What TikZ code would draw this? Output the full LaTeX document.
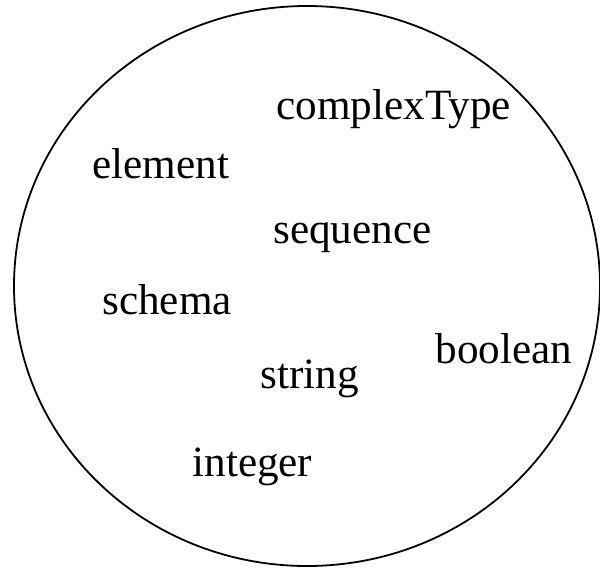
\documentclass[tikz,border=0pt]{standalone}
\usepackage{fontspec}
\setmainfont{Liberation Serif}
\usepackage{pgf,tikz}

\tikzset{word/.style={anchor=base west, inner sep=0pt, font=\fontsize{21.6}{26}\selectfont}}

\begin{document}
\begin{tikzpicture}[x=0.5pt, y=-0.5pt]
\useasboundingbox (0,0) rectangle (600,568);

% the set
\draw[line width=0.9pt] (307,286) ellipse (293 and 280);

\node[word] (complextype) at (276,119) {complexType};
\node[word] (element) at (92,178) {element};
\node[word] (sequence) at (273,243) {sequence};
\node[word] (schema) at (102,314) {schema};
\node[word] (boolean) at (435,363) {boolean};
\node[word] (string) at (260,388) {string};
\node[word] (integer) at (192,476) {integer};

\end{tikzpicture}
\end{document}
